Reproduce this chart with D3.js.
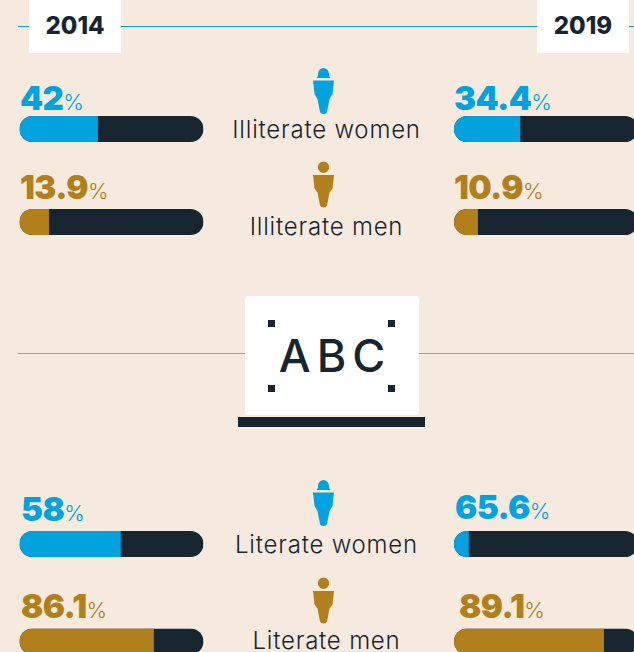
<!DOCTYPE html>
<html><head><meta charset="utf-8">
<script src="https://cdn.jsdelivr.net/npm/d3@7/dist/d3.min.js"></script>
<style>html,body{margin:0;padding:0;background:#f6eadf;overflow:hidden}svg{display:block}</style>
</head><body><svg id="c" width="634" height="652"></svg>
<script>
const years = ["2014","2019"];
const categories = ["Illiterate women","Illiterate men","Literate women","Literate men"];
const groups = ["women","men","women","men"];
const labels2014 = ["42","13.9","58","86.1"];
const labels2019 = ["34.4","10.9","65.6","89.1"];
// bar fill shares as drawn in the picture (they do not always agree with the printed labels)
const fill2014 = [42.6,16,55,73];
const fill2019 = [36,13,8,81.5];

const NAVY="#16252f", BLUE="#00a3e0", GOLD="#b2801a", BG="#f6eadf";
const FONT="Inter, 'Open Sans', sans-serif";
const svg=d3.select("#c");
const color=d3.scaleOrdinal(["women","men"],[BLUE,GOLD]);
const w=d3.scaleLinear().domain([0,100]).range([0,184]);
const rowY=d3.scaleOrdinal(categories,[116,209,531,628.5]);
const colX=d3.scaleOrdinal(years,[19.5,454]);
const barH=26;

svg.append("rect").attr("width",634).attr("height",652).attr("fill",BG);
// header rule + year boxes
svg.append("line").attr("x1",18).attr("x2",634).attr("y1",26.5).attr("y2",26.5).attr("stroke",BLUE).attr("stroke-width",1);
const boxX=d3.scaleOrdinal(years,[29,537]);
years.forEach(y=>{
  svg.append("rect").attr("x",boxX(y)).attr("y",0).attr("width",92).attr("height",53).attr("fill","#fff");
  svg.append("text").attr("x",boxX(y)+46).attr("y",33.5).attr("text-anchor","middle")
    .attr("font-family",FONT).attr("font-weight",800).attr("font-size",24).attr("fill",NAVY).text(y);
});
// divider + ABC board
svg.append("line").attr("x1",18).attr("x2",634).attr("y1",353.5).attr("y2",353.5).attr("stroke","#a89c92").attr("stroke-width",1);
svg.append("rect").attr("x",245).attr("y",296).attr("width",174).attr("height",119).attr("rx",3).attr("fill","#fff");
svg.append("rect").attr("x",238).attr("y",417).attr("width",187).attr("height",10).attr("fill",NAVY);
[[268,320],[388,320],[268,385],[388,385]].forEach(p=>svg.append("rect").attr("x",p[0]).attr("y",p[1]).attr("width",7).attr("height",7).attr("fill",NAVY));
svg.append("text").attr("x",335).attr("y",372).attr("text-anchor","middle").attr("font-family",FONT).attr("font-size",45).attr("font-weight",500).attr("letter-spacing",6).attr("fill",NAVY).text("ABC");

// bars
const clip=(x,y,id)=>{svg.append("clipPath").attr("id",id).append("rect").attr("x",x).attr("y",y).attr("width",w(100)).attr("height",barH).attr("rx",13);};
const labelY={ "2014":[110,199,520.5,618], "2019":[110,199,519,618] };
const labelX={ "2014":[20,20,21,21], "2019":[454,454,455,459] };
years.forEach((yr,yi)=>{
  const vals=yi?fill2019:fill2014, labs=yi?labels2019:labels2014;
  categories.forEach((cat,i)=>{
    const x=colX(yr), y=rowY(cat), id=`c${yi}${i}`;
    clip(x,y,id);
    const g=svg.append("g").attr("clip-path",`url(#${id})`);
    g.append("rect").attr("x",x).attr("y",y).attr("width",w(100)).attr("height",barH).attr("fill",NAVY);
    g.append("rect").attr("x",x).attr("y",y).attr("width",w(vals[i])).attr("height",barH).attr("fill",color(groups[i]));
    const t=svg.append("text").attr("x",labelX[yr][i]).attr("y",labelY[yr][i]).attr("font-family",FONT).attr("fill",color(groups[i]));
    t.append("tspan").attr("font-weight",900).attr("font-size",33).attr("letter-spacing",-0.6).text(labs[i]);
    t.append("tspan").attr("font-weight",300).attr("font-size",22).text("%");
  });
});

// center labels + icons
const textY=[138,235,553,649], iconY=[68,161.5,480,577.5];
const woman="M-7 10L-5.5 8V6a5.5 6 0 0 1 11 0V8L7 10ZM-10.5 12.5H10.5L9 26 6 31 3.5 44Q3 46 0 46T-3.5 44L-6 31-9 26Z";
const man="M0 0a5.7 5.7 0 1 1 0 11.4a5.7 5.7 0 1 1 0-11.4ZM-10.5 13.5H10.5L9 27 6 31 3.5 44Q3 46 0 46T-3.5 44L-6 31-9 27Z";
categories.forEach((cat,i)=>{
  svg.append("text").attr("x",326.5).attr("y",textY[i]).attr("text-anchor","middle").attr("font-family",FONT).attr("font-weight",300).attr("font-size",24).attr("letter-spacing",0.8).attr("fill",NAVY).text(cat);
  svg.append("path").attr("transform",`translate(323.5,${iconY[i]})`).attr("d",groups[i]==="women"?woman:man).attr("fill",color(groups[i]));
});
</script></body></html>
